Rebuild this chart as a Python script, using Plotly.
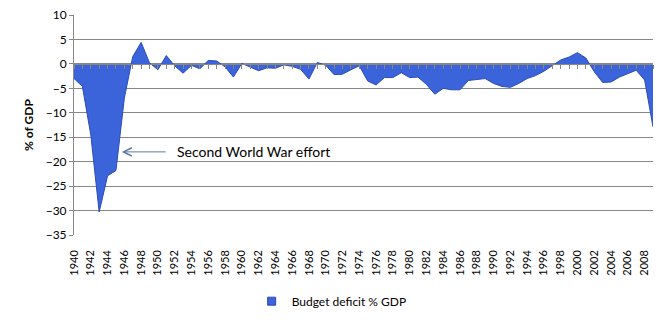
import plotly.graph_objects as go

years = list(range(1940, 2010))
deficit = [
    -3.0, -4.6, -14.5, -30.3, -22.9, -21.8, -7.0, 1.5, 4.4, 0.2,      # 1940-49
    -1.2, 1.7, -0.4, -1.9, -0.3, -1.0, 0.7, 0.6, -0.6, -2.7,          # 1950-59
    0.1, -0.6, -1.4, -0.8, -0.9, -0.2, -0.5, -1.1, -3.1, 0.3,         # 1960-69
    -0.3, -2.2, -2.1, -1.2, -0.4, -3.5, -4.3, -2.8, -2.8, -1.8,       # 1970-79
    -2.8, -2.7, -4.2, -6.2, -5.0, -5.3, -5.3, -3.4, -3.2, -3.0,       # 1980-89
    -4.0, -4.6, -4.8, -4.0, -3.0, -2.4, -1.5, -0.3, 0.8, 1.4,         # 1990-99
    2.3, 1.2, -1.6, -3.8, -3.7, -2.7, -2.0, -1.3, -3.3, -12.9,        # 2000-09
]
tick_years = list(range(1940, 2009, 2))
tick_labels = [str(y) for y in tick_years]
series_name = "Budget deficit % GDP"
annotation_text = "Second World War effort"

FILL = "#3B63DA"
EDGE = "#2B4CB8"
GRID = "#878787"
FONT = "Lato"

fig = go.Figure()
fig.add_trace(go.Scatter(
    x=years, y=deficit, mode="lines", fill="tozeroy",
    fillcolor=FILL, line=dict(color=EDGE, width=1),
    showlegend=False, hoverinfo="x+y",
))
# legend entry (square marker like the original)
fig.add_trace(go.Scatter(
    x=[None], y=[None], mode="markers", name=series_name,
    marker=dict(symbol="square", size=8, color=FILL, line=dict(color=EDGE, width=1)),
))
# helper trace for the axis drawn along the zero line
fig.add_trace(go.Scatter(
    x=[years[0]], y=[0], xaxis="x2", mode="markers",
    marker=dict(opacity=0), showlegend=False, hoverinfo="skip",
))

ymin, ymax = -35, 10
fig.update_layout(
    width=668, height=323,
    margin=dict(l=74, r=15, t=15, b=88, autoexpand=False),
    paper_bgcolor="white", plot_bgcolor="white",
    font=dict(family=FONT, color="#000000", size=11),
    xaxis=dict(
        range=[years[0], years[-1]], automargin=False,
        tickmode="array", tickvals=tick_years, ticktext=tick_labels,
        tickangle=-90, showgrid=False, zeroline=False, showline=False,
        ticks="", ticklabelstandoff=12,
        tickfont=dict(family=FONT, size=11, color="#000"),
    ),
    xaxis2=dict(
        range=[years[0], years[-1]], overlaying="x", anchor="free",
        position=(0 - ymin) / (ymax - ymin), side="bottom", automargin=False,
        tickmode="linear", tick0=years[0], dtick=1,
        ticks="outside", ticklen=4, tickcolor=GRID, tickwidth=1,
        showticklabels=False, showgrid=False, zeroline=False,
        showline=True, linecolor=GRID, linewidth=1,
    ),
    yaxis=dict(
        range=[ymin, ymax], dtick=5, tick0=0, automargin=False,
        showgrid=True, gridcolor=GRID, gridwidth=1,
        zeroline=False, showline=True, linecolor=GRID, linewidth=1,
        ticks="outside", ticklen=4, tickcolor=GRID,
        tickfont=dict(family=FONT, size=12, color="#000"),
        title=dict(text="<b>% of GDP</b>", font=dict(family=FONT, size=12, color="#000"),
                   standoff=9),
    ),
    legend=dict(
        orientation="h", x=0.445, xanchor="center", y=-0.235, yanchor="top",
        font=dict(family=FONT, size=12, color="#000"),
        bgcolor="rgba(0,0,0,0)",
    ),
    annotations=[
        dict(x=1945.7, y=-18.0, ax=1951.1, ay=-18.0, xref="x", yref="y",
             axref="x", ayref="y", text="", showarrow=True,
             arrowhead=5, arrowsize=1.6, arrowwidth=1, arrowcolor="#5B7BA8"),
        dict(x=1952.0, y=-18.0, xref="x", yref="y", text=annotation_text,
             showarrow=False, xanchor="left", yanchor="middle",
             font=dict(family=FONT, size=14, color="#000")),
    ],
)

fig.write_html("out.html")
